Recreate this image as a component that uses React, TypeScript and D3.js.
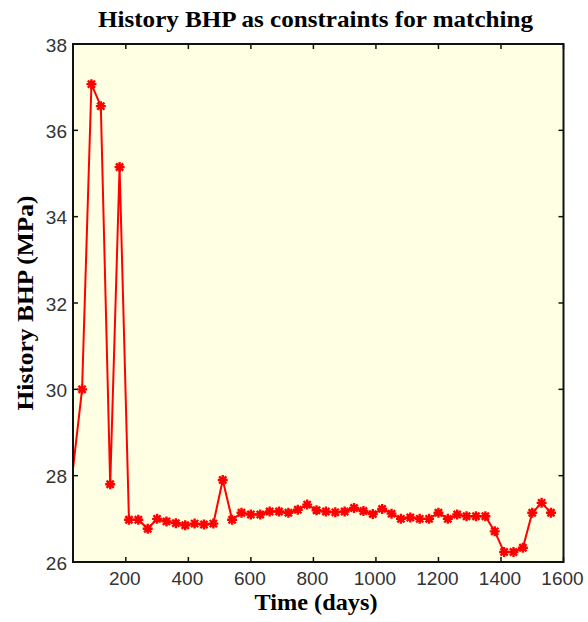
import React, { useEffect, useRef } from "react";
import * as d3 from "d3";

// time in days, BHP in MPa
const days = [0, 60, 90, 120, 150, 180, 210, 240, 270, 300, 330, 360, 390, 420, 450, 480, 510, 540, 570, 600, 630, 660, 690, 720, 750, 780, 810, 840, 870, 900, 930, 960, 990, 1020, 1050, 1080, 1110, 1140, 1170, 1200, 1230, 1260, 1290, 1320, 1350, 1380, 1410, 1440, 1470, 1500, 1530, 1560];
const bhp = [26.2, 30.0, 37.07, 36.56, 27.8, 35.15, 26.98, 26.98, 26.77, 27.0, 26.94, 26.9, 26.85, 26.89, 26.87, 26.89, 27.9, 26.98, 27.14, 27.1, 27.1, 27.17, 27.17, 27.14, 27.21, 27.33, 27.2, 27.17, 27.15, 27.17, 27.25, 27.18, 27.11, 27.23, 27.12, 27.0, 27.03, 27.0, 27.0, 27.14, 27.0, 27.1, 27.06, 27.06, 27.06, 26.71, 26.23, 26.23, 26.33, 27.14, 27.37, 27.14];
const xTicks = [200, 400, 600, 800, 1000, 1200, 1400, 1600];
const yTicks = [26, 28, 30, 32, 34, 36, 38];
const title = "History BHP as constraints for matching";
const xLabel = "Time (days)";
const yLabel = "History BHP (MPa)";

export default function App() {
  const ref = useRef<SVGSVGElement>(null);

  useEffect(() => {
    const svg = d3.select(ref.current);
    svg.selectAll("*").remove();

    const left = 73, right = 563.5, top = 44, bottom = 562;
    const x = d3.scaleLinear().domain([31, 1600]).range([left, right]);
    const y = d3.scaleLinear().domain([26, 38]).range([bottom, top]);

    svg.append("rect").attr("width", 588).attr("height", 622).attr("fill", "white");
    svg.append("rect")
      .attr("x", left).attr("y", top)
      .attr("width", right - left).attr("height", bottom - top)
      .attr("fill", "#ffffe3");

    svg.append("clipPath").attr("id", "plotclip")
      .append("rect")
      .attr("x", left).attr("y", top)
      .attr("width", right - left).attr("height", bottom - top);

    const tickFont = "'Liberation Sans', Arial, sans-serif";

    // inward ticks on all four sides
    const tl = 5;
    xTicks.forEach(t => {
      svg.append("line").attr("x1", x(t)).attr("x2", x(t)).attr("y1", bottom).attr("y2", bottom - tl)
        .attr("stroke", "#111").attr("stroke-width", 1.5);
      svg.append("line").attr("x1", x(t)).attr("x2", x(t)).attr("y1", top).attr("y2", top + tl)
        .attr("stroke", "#111").attr("stroke-width", 1.5);
      svg.append("text").attr("x", x(t) - 1).attr("y", bottom + 23)
        .attr("text-anchor", "middle").attr("font-family", tickFont).attr("font-size", 19)
        .attr("fill", "#333").text(t);
    });
    yTicks.forEach(t => {
      svg.append("line").attr("x1", left).attr("x2", left + tl).attr("y1", y(t)).attr("y2", y(t))
        .attr("stroke", "#111").attr("stroke-width", 1.5);
      svg.append("line").attr("x1", right).attr("x2", right - tl).attr("y1", y(t)).attr("y2", y(t))
        .attr("stroke", "#111").attr("stroke-width", 1.5);
      svg.append("text").attr("x", left - 6).attr("y", y(t) + 7.5)
        .attr("text-anchor", "end").attr("font-family", tickFont).attr("font-size", 19)
        .attr("fill", "#333").text(t);
    });

    const g = svg.append("g").attr("clip-path", "url(#plotclip)");
    const pts = days.map((d, i) => [d, bhp[i]] as [number, number]);
    const line = d3.line<[number, number]>().x(d => x(d[0])).y(d => y(d[1]));
    g.append("path").attr("d", line(pts)).attr("fill", "none")
      .attr("stroke", "#ff0000").attr("stroke-width", 2);

    // asterisk-like markers
    const a = 5, b = 3.6;
    const marker = `M${-a},0L${a},0M0,${-a}L0,${a}M${-b},${-b}L${b},${b}M${-b},${b}L${b},${-b}`;
    g.selectAll("path.m").data(pts).enter().append("path")
      .attr("class", "m")
      .attr("transform", d => `translate(${x(d[0])},${y(d[1])})`)
      .attr("d", marker).attr("fill", "none").attr("stroke", "#ff0000").attr("stroke-width", 2.4);
    g.selectAll("circle.m").data(pts).enter().append("circle")
      .attr("class", "m")
      .attr("cx", d => x(d[0])).attr("cy", d => y(d[1])).attr("r", 2.6).attr("fill", "#ff0000");

    // frame
    svg.append("rect")
      .attr("x", left).attr("y", top)
      .attr("width", right - left).attr("height", bottom - top)
      .attr("fill", "none").attr("stroke", "#111").attr("stroke-width", 2);

    const serif = "'Liberation Serif', 'Times New Roman', serif";
    svg.append("text").attr("x", 315.5).attr("y", 27).attr("text-anchor", "middle")
      .attr("font-family", serif).attr("font-weight", "bold").attr("font-size", 23)
      .attr("textLength", 435).attr("lengthAdjust", "spacingAndGlyphs").text(title);
    svg.append("text").attr("x", 316).attr("y", 610).attr("text-anchor", "middle")
      .attr("font-family", serif).attr("font-weight", "bold").attr("font-size", 23)
      .attr("textLength", 123).attr("lengthAdjust", "spacingAndGlyphs").text(xLabel);
    svg.append("text").attr("transform", `translate(33,${(top + bottom) / 2}) rotate(-90)`)
      .attr("text-anchor", "middle")
      .attr("font-family", serif).attr("font-weight", "bold").attr("font-size", 23)
      .attr("textLength", 215).attr("lengthAdjust", "spacingAndGlyphs").text(yLabel);
  }, []);

  return (
    <svg ref={ref} width={588} height={622}
      style={{ position: "absolute", left: 0, top: 0, display: "block" }} />
  );
}
